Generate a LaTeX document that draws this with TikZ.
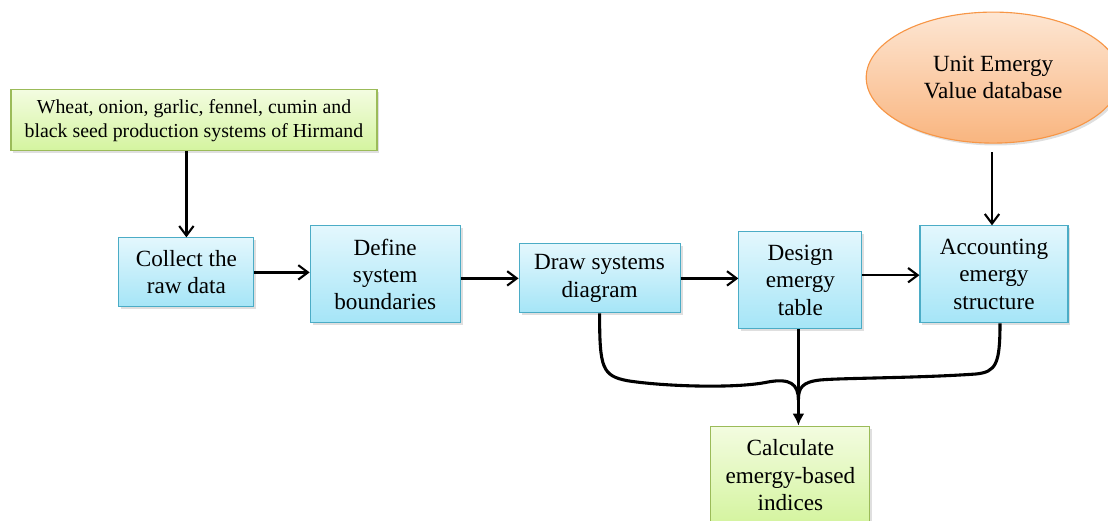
\documentclass[tikz,border=0pt]{standalone}
\usepackage{fontspec}
\setmainfont{Liberation Serif}
\usetikzlibrary{arrows.meta,shapes.geometric,shadows}
\definecolor{boxline}{HTML}{4BACC6}
\definecolor{boxtop}{HTML}{E3F7FD}
\definecolor{boxbot}{HTML}{A5E5F7}
\definecolor{grnline}{HTML}{9BBB59}
\definecolor{grntop}{HTML}{F3FCE0}
\definecolor{grnbot}{HTML}{D4F49F}
\definecolor{orgline}{HTML}{F79646}
\definecolor{orgtop}{HTML}{FDE6D3}
\definecolor{orgbot}{HTML}{F9B57F}
\tikzset{
  boxshadow/.style={drop shadow={opacity=0.25, shadow xshift=0.06cm, shadow yshift=-0.06cm}},
  bluebox/.style={rectangle, draw=boxline, line width=0.8pt, top color=boxtop, bottom color=boxbot, boxshadow, align=center, inner sep=0pt, font=\fontsize{16.5}{19.4}\selectfont},
  greenbox/.style={bluebox, draw=grnline, top color=grntop, bottom color=grnbot},
  flow/.style={-{Straight Barb[length=2.4mm, width=3.6mm, line width=1.5pt]}, line width=1.6pt},
  mergeline/.style={line width=2.2pt}
}
\begin{document}
\begin{tikzpicture}
\useasboundingbox (0,0) rectangle (27.7,-13.025);
\node[greenbox, minimum width=9.15cm, minimum height=1.525cm, font=\fontsize{14.1}{17}\selectfont] (src) at (4.85, -3.01) {Wheat, onion, garlic, fennel, cumin and\\black seed production systems of Hirmand};
\node[bluebox, minimum width=3.375cm, minimum height=1.725cm] (collect) at (4.66, -6.81) {Collect the\\raw data};
\node[bluebox, minimum width=3.75cm, minimum height=2.425cm] (define) at (9.63, -6.86) {Define\\system\\boundaries};
\node[bluebox, minimum width=4.025cm, minimum height=1.725cm] (sysdiag) at (14.99, -6.96) {Draw systems\\diagram};
\node[bluebox, minimum width=3.075cm, minimum height=2.425cm] (design) at (20.01, -7.01) {Design\\emergy\\table};
\node[bluebox, minimum width=3.7cm, minimum height=2.425cm] (acct) at (24.85, -6.86) {Accounting\\emergy\\structure};
\node[ellipse, draw=orgline, line width=0.8pt, top color=orgtop, bottom color=orgbot, boxshadow, inner sep=0pt, minimum width=6.35cm, minimum height=3.275cm, align=center, font=\fontsize{16.5}{19.4}\selectfont] (uev) at (24.83, -1.94) {Unit Emergy\\Value database};
\node[greenbox, minimum width=3.975cm, minimum height=2.45cm] (calc) at (19.76, -11.88) {Calculate\\emergy-based\\indices};
\coordinate (merge) at (19.96, -10.0);
\draw[flow] (src.south -| collect) -- (collect);
\draw[flow] (collect) -- (define.west |- collect);
\draw[flow] (define.east |- sysdiag) -- (sysdiag);
\draw[flow] (sysdiag) -- (design.west |- sysdiag);
\draw[flow] (design.east |- 0,-6.88) -- (acct.west |- 0,-6.88);
\draw[flow] ([yshift=-0.22cm]uev.south -| 24.8,0) -- (acct.north -| 24.8,0);
% three results meet above the indices box
\draw[mergeline] (sysdiag.south) .. controls (14.99,-9.2) and (15.05,-9.4) .. (15.7,-9.52) .. controls (16.6,-9.66) and (18.4,-9.72) .. (19.2,-9.55) .. controls (19.75,-9.45) and (19.96,-9.6) .. (merge);
\draw[mergeline] ([xshift=0.15cm]acct.south) .. controls (25.0,-9.1) and (24.9,-9.3) .. (24.4,-9.35) .. controls (23.0,-9.45) and (21.0,-9.45) .. (20.5,-9.5) .. controls (20.05,-9.55) and (19.96,-9.7) .. (merge);
\draw[mergeline, -{Latex[length=3mm, width=3mm]}] (design.south -| merge) -- (calc.north -| merge);
\end{tikzpicture}
\end{document}
